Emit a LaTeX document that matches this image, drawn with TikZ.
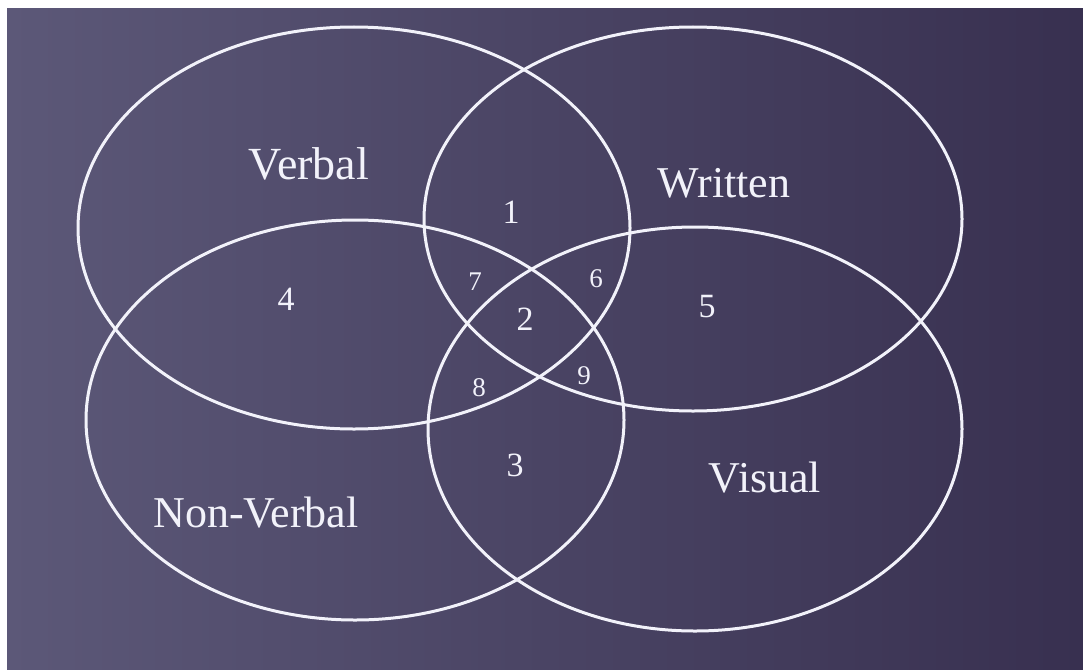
\documentclass[tikz,border=0pt]{standalone}
\usepackage{fontspec}
\setmainfont{Liberation Serif}
\usetikzlibrary{shapes.geometric}
\definecolor{bgleft}{RGB}{92,88,120}
\definecolor{bgright}{RGB}{56,48,80}
\definecolor{chalk}{RGB}{242,242,250}
\begin{document}
\begin{tikzpicture}[x=1pt, y=-1pt,
  ring/.style={ellipse, draw=chalk, line width=3pt, inner sep=0pt},
  lbl/.style={text=chalk, font=\fontsize{44}{50}\selectfont},
  num/.style={text=chalk, font=\fontsize{34}{38}\selectfont},
  smallnum/.style={text=chalk, font=\fontsize{27}{30}\selectfont}
]
  \useasboundingbox (0,0) rectangle (1083,669);
  \shade[left color=bgleft, right color=bgright] (7,9) rectangle (1083,669);

  % -- the four sets --
  \node[ring, minimum width=552pt, minimum height=402pt] (verbal) at (354,228) {};
  \node[ring, minimum width=538pt, minimum height=384pt] (written) at (693,219) {};
  \node[ring, minimum width=538pt, minimum height=400pt] (nonverbal) at (355,420) {};
  \node[ring, minimum width=534pt, minimum height=404pt] (visual) at (695,429) {};

  % -- set names --
  \node[lbl, font=\fontsize{46}{50}\selectfont] (verballbl) at (309,164) {Verbal};
  \node[lbl] (writtenlbl) at (724,183) {Written};
  \node[lbl] (nonverballbl) at (256,513) {Non-Verbal};
  \node[lbl] (visuallbl) at (765,478) {Visual};

  % -- regions --
  \node[num] (r1) at (511,212) {1};
  \node[num] (r2) at (525,319) {2};
  \node[num] (r3) at (515,465) {3};
  \node[num] (r4) at (286,299) {4};
  \node[num] (r5) at (707,307) {5};
  \node[smallnum] (r6) at (596,279) {6};
  \node[smallnum] (r7) at (475,282) {7};
  \node[smallnum] (r8) at (479,388) {8};
  \node[smallnum] (r9) at (584,376) {9};
\end{tikzpicture}
\end{document}
